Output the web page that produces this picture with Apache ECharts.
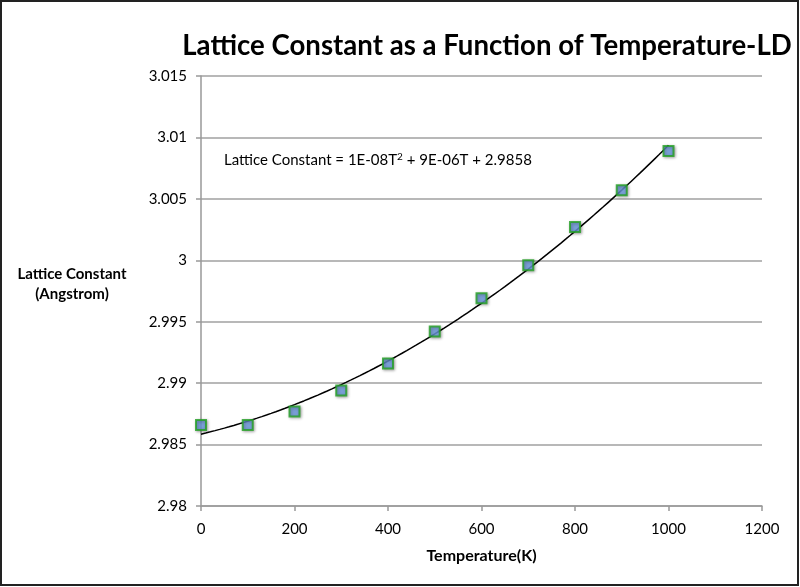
<!DOCTYPE html>
<html><head><meta charset="utf-8">
<script src="https://cdn.jsdelivr.net/npm/echarts@6/dist/echarts.min.js"></script>
<style>html,body{margin:0;padding:0;background:#fff}#c{width:800px;height:587px}</style>
</head><body><div id="c"></div>
<script>
const temperatures = [0, 100, 200, 300, 400, 500, 600, 700, 800, 900, 1000];
const latticeConstants = [2.9866, 2.9866, 2.9877, 2.9894, 2.9916, 2.9942, 2.9969, 2.9996, 3.0027, 3.0057, 3.0089];
const yTicks = [2.98, 2.985, 2.99, 2.995, 3, 3.005, 3.01, 3.015];
const xTicks = [0, 200, 400, 600, 800, 1000, 1200];

// least-squares quadratic trendline fitted to the data
function fitQuadratic(xs, ys) {
  let S = [0,0,0,0,0], T = [0,0,0];
  for (let i = 0; i < xs.length; i++) {
    let p = 1;
    for (let k = 0; k < 5; k++) { S[k] += p; p *= xs[i]; }
    p = 1;
    for (let k = 0; k < 3; k++) { T[k] += p * ys[i]; p *= xs[i]; }
  }
  const A = [[S[0],S[1],S[2],T[0]],[S[1],S[2],S[3],T[1]],[S[2],S[3],S[4],T[2]]];
  for (let i = 0; i < 3; i++) {
    for (let j = i+1; j < 3; j++) {
      const f = A[j][i] / A[i][i];
      for (let k = i; k < 4; k++) A[j][k] -= f * A[i][k];
    }
  }
  const c = [0,0,0];
  for (let i = 2; i >= 0; i--) {
    let s = A[i][3];
    for (let k = i+1; k < 3; k++) s -= A[i][k] * c[k];
    c[i] = s / A[i][i];
  }
  return c;
}
const coef = fitQuadratic(temperatures, latticeConstants);
const trend = [];
for (let t = 0; t <= 1000; t += 10) trend.push([t, coef[0] + coef[1]*t + coef[2]*t*t]);

const FONT = 'Lato';
const chart = echarts.init(document.getElementById('c'));
chart.setOption({
  animation: false,
  backgroundColor: '#fff',
  title: {
    text: 'Lattice Constant as a Function of Temperature-LD',
    left: 482, top: 27, textAlign: 'center',
    textStyle: { fontFamily: FONT, fontWeight: 'bold', fontSize: 27.6, color: '#000' }
  },
  grid: { left: 201, right: 38, top: 76, bottom: 81 },
  xAxis: {
    type: 'value', min: 0, max: 1200, interval: 200,
    name: 'Temperature(K)', nameLocation: 'middle', nameGap: 42,
    nameTextStyle: { fontFamily: FONT, fontWeight: 'bold', fontSize: 16, color: '#000' },
    axisLine: { show: true, lineStyle: { color: '#999', width: 1.5 } },
    axisTick: { show: true, length: 5, lineStyle: { color: '#999', width: 1.5 } },
    axisLabel: { margin: 16, fontFamily: FONT, fontSize: 15, color: '#000',
      formatter: v => String(v) },
    splitLine: { show: false }
  },
  yAxis: {
    type: 'value', min: 2.98, max: 3.015, interval: 0.005,
    axisLine: { show: true, lineStyle: { color: '#999', width: 1.5 } },
    axisTick: { show: true, length: 5, lineStyle: { color: '#999', width: 1.5 } },
    axisLabel: { margin: 14, fontFamily: FONT, fontSize: 15, color: '#000',
      formatter: v => String(parseFloat(v.toFixed(3))) },
    splitLine: { show: true, lineStyle: { color: '#a0a0a0', width: 1.5 } }
  },
  graphic: [
    { type: 'rect', shape: { x: 1, y: 1, width: 797, height: 584 }, style: { fill: 'none', stroke: '#222', lineWidth: 2 } },
    { type: 'text', x: 72, y: 264, style: { text: 'Lattice Constant\n(Angstrom)',
        font: 'bold 15px Lato', fill: '#000', lineHeight: 20, align: 'center' } },
    { type: 'text', left: 224, top: 152, style: {
        rich: { n: { fontFamily: FONT, fontSize: 15, fill: '#000' }, s: { fontFamily: FONT, fontSize: 10, fill: '#000', verticalAlign: 'top', padding:[0,0,7,0] } },
        text: '{n|Lattice Constant = 1E-08T}{s|2}{n| + 9E-06T + 2.9858}' } }
  ],
  series: [
    { type: 'line', data: trend, showSymbol: false, smooth: false, silent: true,
      lineStyle: { color: '#000', width: 1.5 }, z: 2 },
    { type: 'scatter', data: temperatures.map((t, i) => [t, latticeConstants[i]]),
      symbol: 'rect', symbolSize: 10, z: 3,
      itemStyle: { color: '#6b9ae0', borderColor: '#22a022', borderWidth: 2,
        shadowBlur: 3, shadowColor: 'rgba(0,0,0,0.4)', shadowOffsetX: 1, shadowOffsetY: 1 } }
  ]
});
</script></body></html>
